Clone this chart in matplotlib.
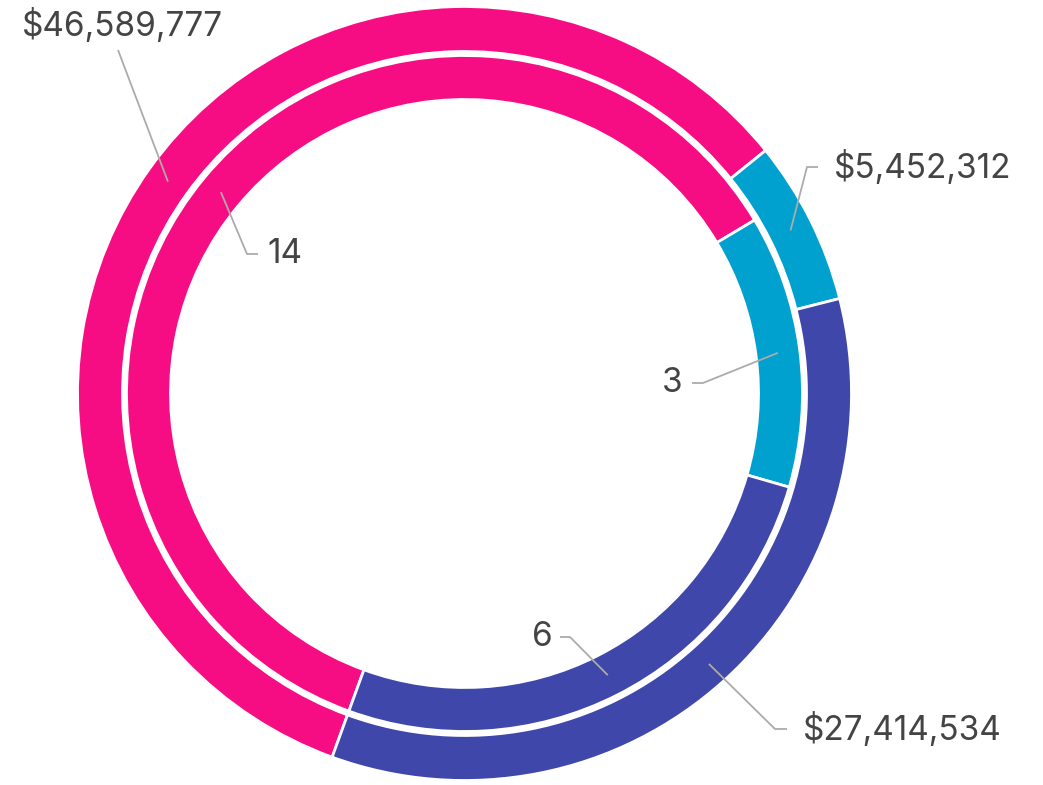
import numpy as np
import matplotlib
matplotlib.use("Agg")
import matplotlib.pyplot as plt

# data
amounts = [46589777, 5452312, 27414534]
counts = [14, 3, 6]
colors = ["#F70D83", "#00A1CF", "#3F48AA"]

W, H = 1043, 785
cx, cy = 464.5, H - 393.5
R_OUT, W_OUT = 387, 45
R_IN, W_IN = 338, 44
START = 250
FS = 24

plt.rcParams["font.family"] = ["Inter", "DejaVu Sans"]

fig = plt.figure(figsize=(W / 100, H / 100), dpi=100)
ax = fig.add_axes([0, 0, 1, 1])

wp = dict(edgecolor="white", linewidth=2)
ax.pie(amounts, radius=R_OUT, center=(cx, cy), startangle=START, counterclock=False,
       colors=colors, wedgeprops=dict(width=W_OUT, **wp))
ax.pie(counts, radius=R_IN, center=(cx, cy), startangle=START, counterclock=False,
       colors=colors, wedgeprops=dict(width=W_IN, **wp))


def mid_angles(vals):
    vals = np.array(vals, dtype=float)
    frac = vals / vals.sum() * 360
    ends = START - np.cumsum(frac)
    return ends + frac / 2


# label layout: elbow point (image px), horizontal stub length, side, text gap
out_layout = [((118, 50), 0, "up", 7), ((807, 167), 11, "right", 16), ((775, 729), 12, "right", 16)]
in_layout = [((247, 254), 11, "right", 9), ((703, 383), -11, "left", 9), ((570, 637), -10, "left", 7)]


def draw_labels(vals, texts, r_mid, layout):
    for ang, txt, ((ex, ey), stub, side, gap) in zip(mid_angles(vals), texts, layout):
        a = np.deg2rad(ang)
        sx, sy = cx + r_mid * np.cos(a), cy + r_mid * np.sin(a)
        ey = H - ey
        ax.plot([sx, ex, ex + stub], [sy, ey, ey], color="#ABABAB", lw=1.3,
                solid_capstyle="butt", zorder=5)
        if side == "up":
            ax.text(ex + 4, ey + gap, txt, ha="center", va="bottom", fontsize=FS, color="#444444")
        elif side == "right":
            ax.text(ex + stub + gap, ey, txt, ha="left", va="center", fontsize=FS, color="#444444")
        else:
            ax.text(ex + stub - gap, ey, txt, ha="right", va="center", fontsize=FS, color="#444444")


draw_labels(amounts, [f"${v:,}" for v in amounts], R_OUT - W_OUT / 2, out_layout)
draw_labels(counts, [str(v) for v in counts], R_IN - W_IN / 2, in_layout)

ax.set_xlim(0, W)
ax.set_ylim(0, H)
ax.set_aspect("auto")
ax.axis("off")

fig.savefig("out.png", dpi=100)
